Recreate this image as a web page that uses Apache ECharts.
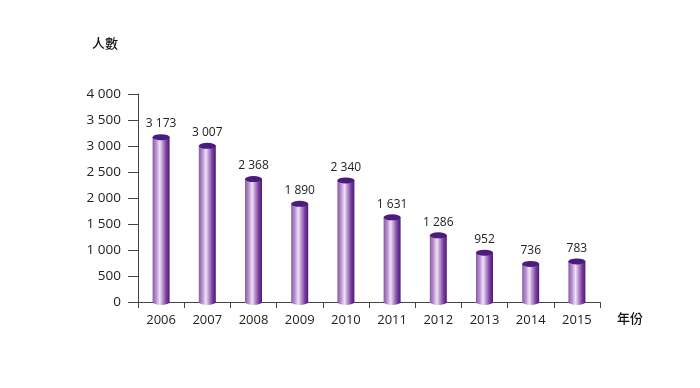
<!DOCTYPE html>
<html>
<head>
<meta charset="utf-8">
<script src="https://cdn.jsdelivr.net/npm/echarts@6/dist/echarts.min.js"></script>
<style>html,body{margin:0;padding:0;background:#fff}#c{width:700px;height:388px}</style>
</head>
<body>
<div id="c"></div>
<script>
const years = ['2006','2007','2008','2009','2010','2011','2012','2013','2014','2015'];
const persons = [3173, 3007, 2368, 1890, 2340, 1631, 1286, 952, 736, 783];
const yTicks = [0, 500, 1000, 1500, 2000, 2500, 3000, 3500, 4000];

function fmt(v){ return String(v).replace(/\B(?=(\d{3})+(?!\d))/g, ' '); }

const FONT = '"Open Sans", "Noto Sans", sans-serif';
const chart = echarts.init(document.getElementById('c'), null, {renderer:'canvas'});
const barGrad = new echarts.graphic.LinearGradient(0,0,1,0,[
  {offset:0, color:'#8a5aa8'},
  {offset:0.2, color:'#b58ccc'},
  {offset:0.42, color:'#efe3f5'},
  {offset:0.55, color:'#c7a6d9'},
  {offset:0.8, color:'#7a3e9e'},
  {offset:1, color:'#4a1a78'}
]);
chart.setOption({
  animation:false,
  textStyle:{fontFamily:FONT},
  grid:{left:138, right:100, top:94, bottom:86, containLabel:false},
  graphic:[
    {type:'text', left:92, top:37, style:{text:'人數', font:'500 13px "Noto Sans CJK TC", sans-serif', fill:'#111'}},
    {type:'text', left:617, top:312, style:{text:'年份', font:'500 13px "Noto Sans CJK TC", sans-serif', fill:'#111'}}
  ],
  xAxis:{
    type:'category', data:years, boundaryGap:true,
    axisLine:{lineStyle:{color:'#444', width:1}},
    axisTick:{show:true, interval:0, length:6, lineStyle:{color:'#444'}},
    axisLabel:{color:'#222', fontSize:13, margin:12, fontFamily:FONT}
  },
  yAxis:{
    type:'value', min:yTicks[0], max:yTicks[yTicks.length-1], interval:500,
    splitLine:{show:false},
    axisLine:{show:true, lineStyle:{color:'#444', width:1}},
    axisTick:{show:true, length:10, lineStyle:{color:'#444'}},
    axisLabel:{color:'#222', fontSize:13.5, margin:17, fontFamily:FONT, formatter:fmt}
  },
  series:[
    {type:'bar', data:persons, barWidth:17, itemStyle:{color:barGrad}, z:2},
    {type:'pictorialBar', data:persons, symbol:'circle', symbolSize:[17,6],
      symbolPosition:'start', symbolOffset:[0,'50%'], itemStyle:{color:barGrad}, z:1},
    {type:'pictorialBar', data:persons, symbol:'circle', symbolSize:[17,6],
      symbolPosition:'end', symbolOffset:[0,'-50%'],
      itemStyle:{color:'#4b1c80', borderColor:'#6e3fa0', borderWidth:0.5}, z:3,
      label:{show:true, position:'top', distance:4, color:'#222', fontSize:12, fontFamily:FONT,
        formatter:p=>fmt(p.value)}}
  ]
});
</script>
</body>
</html>
